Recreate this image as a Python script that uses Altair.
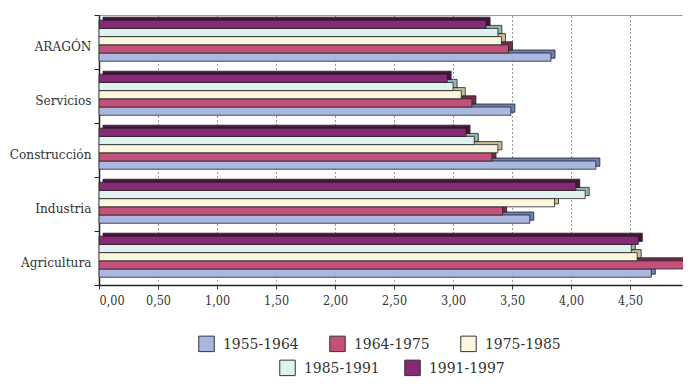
import altair as alt
import pandas as pd

categories = ["ARAGÓN", "Servicios", "Construcción", "Industria", "Agricultura"]
periods = ["1955-1964", "1964-1975", "1975-1985", "1985-1991", "1991-1997"]
v_1955_1964 = [3.83, 3.49, 4.21, 3.65, 4.68]
v_1964_1975 = [3.47, 3.16, 3.33, 3.42, 4.96]
v_1975_1985 = [3.41, 3.07, 3.38, 3.86, 4.56]
v_1985_1991 = [3.38, 3.00, 3.18, 4.12, 4.51]
v_1991_1997 = [3.28, 2.95, 3.11, 4.04, 4.57]
front_colors = ["#AAB7DF", "#C2527B", "#FCF6DE", "#E0F1EF", "#852A73"]
side_colors = ["#6F80B6", "#7A2A4A", "#C9BD97", "#92B6B2", "#45143C"]
x_ticks = [0.0, 0.5, 1.0, 1.5, 2.0, 2.5, 3.0, 3.5, 4.0, 4.5]

series_values = [v_1955_1964, v_1964_1975, v_1975_1985, v_1985_1991, v_1991_1997]
rows = []
for p, vals in zip(periods, series_values):
    for c, v in zip(categories, vals):
        rows.append({"cat": c, "period": p, "value": v})
df = pd.DataFrame(rows)

offset_order = periods[::-1]  # top to bottom within a group
FONT_C = "DejaVu Serif Condensed"
H = 270
W = 583

xscale = alt.Scale(domain=[0, 4.94], nice=False, zero=True)
off_scale = alt.Scale(domain=offset_order, paddingInner=0, paddingOuter=0.79, align=0.4)

back = alt.Chart(df).mark_bar(stroke="#222222", strokeWidth=0.8, xOffset=4, x2Offset=4, opacity=1).encode(
    x=alt.X("value:Q", scale=xscale,
            axis=alt.Axis(orient="top", labels=False, ticks=False, grid=False, domainColor="#9a9a9a",
                          domainWidth=1, title=None)),
    y=alt.Y("cat:N", sort=categories,
            scale=alt.Scale(domain=categories, range=[-3, H - 3], paddingInner=0, paddingOuter=0),
            axis=None),
    yOffset=alt.YOffset("period:N", sort=offset_order, scale=off_scale),
    color=alt.Color("period:N", scale=alt.Scale(domain=periods, range=side_colors), legend=None),
)

legend_common = dict(
    orient="none", direction="horizontal", title=None, padding=0,
    symbolType="square", symbolSize=240, symbolStrokeColor="#333333", symbolStrokeWidth=1,
    symbolOpacity=1, labelFont=FONT_C, labelFontSize=15.5, labelColor="#333333", labelOffset=8,
)

front_a = alt.Chart(df).transform_filter(
    alt.FieldOneOfPredicate(field="period", oneOf=periods[:3])
).mark_bar(stroke="#222222", strokeWidth=0.8, opacity=1).encode(
    x=alt.X("value:Q", scale=xscale,
            axis=alt.Axis(orient="bottom", values=x_ticks,
                          labelExpr="datum.value >= 4.9 ? '' : replace(format(datum.value, '.2f'), '.', ',')",
                          grid=True, gridDash=[1, 3], gridColor="#333333", gridWidth=1,
                          tickSize=4, tickColor="#333333", labelPadding=5, labelFont=FONT_C,
                          labelFontSize=12.5, labelColor="#333333", domainColor="#222222",
                          domainWidth=1.5, title=None)),
    y=alt.Y("cat:N", sort=categories,
            scale=alt.Scale(domain=categories, paddingInner=0, paddingOuter=0),
            axis=alt.Axis(tickBand="extent", tickSize=5, tickColor="#222222", labelPadding=3,
                          labelOffset=4, labelFont=FONT_C, labelFontSize=13.5, labelColor="#333333",
                          domainColor="#222222", domainWidth=1.5, title=None)),
    yOffset=alt.YOffset("period:N", sort=offset_order, scale=off_scale),
    color=alt.Color("period:N", sort=periods[:3],
                    scale=alt.Scale(domain=periods[:3], range=front_colors[:3]),
                    legend=alt.Legend(legendX=99, legendY=320, columns=3, columnPadding=28,
                                      **legend_common)),
)

front_b = alt.Chart(df).transform_filter(
    alt.FieldOneOfPredicate(field="period", oneOf=periods[3:])
).mark_bar(stroke="#222222", strokeWidth=0.8, opacity=1).encode(
    x=alt.X("value:Q", scale=xscale, axis=None),
    y=alt.Y("cat:N", sort=categories,
            scale=alt.Scale(domain=categories, paddingInner=0, paddingOuter=0),
            axis=None),
    yOffset=alt.YOffset("period:N", sort=offset_order, scale=off_scale),
    color=alt.Color("period:N", sort=periods[3:],
                    scale=alt.Scale(domain=periods[3:], range=front_colors[3:]),
                    legend=alt.Legend(legendX=180, legendY=344, columns=2, columnPadding=22,
                                      **legend_common)),
)

chart = alt.layer(back, front_a, front_b).resolve_scale(
    y="independent", yOffset="independent", color="independent"
).resolve_axis(
    x="independent", y="independent"
).properties(
    width=W, height=H,
    autosize=alt.AutoSizeParams(type="none"),
    padding={"left": 91, "top": 7, "right": 1, "bottom": 96},
    background="white",
).configure_view(stroke=None)

chart.save("out.html", embed_options={"renderer": "svg", "actions": False})
